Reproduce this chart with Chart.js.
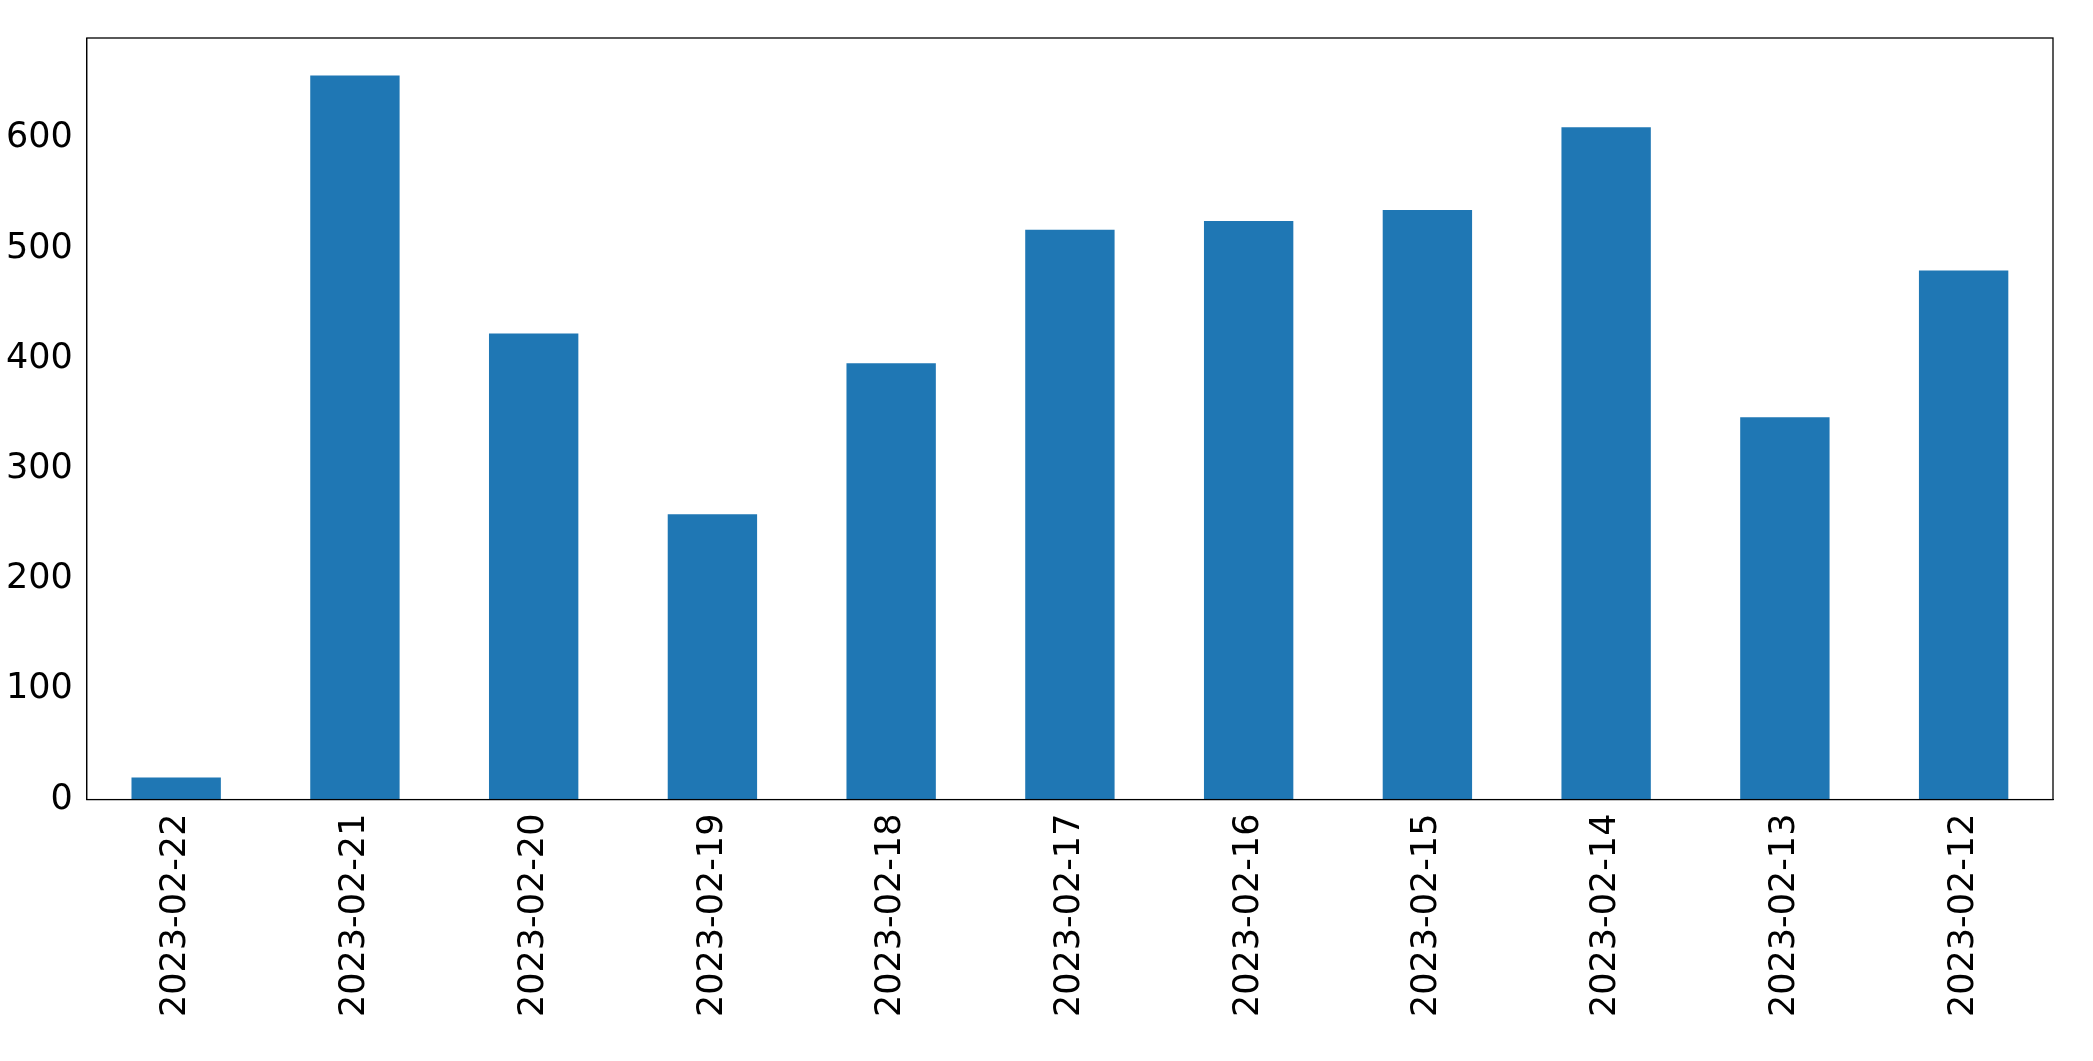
<!DOCTYPE html>
<html><head><meta charset="utf-8">
<script src="https://cdn.jsdelivr.net/npm/chart.js@4"></script>
<style>html,body{margin:0;padding:0;background:#fff}#w{position:absolute;left:0;top:0;width:2093px;height:1061px}</style>
</head><body><div id="w"><canvas id="c"></canvas></div>
<script>
const categories = ["2023-02-22","2023-02-21","2023-02-20","2023-02-19","2023-02-18","2023-02-17","2023-02-16","2023-02-15","2023-02-14","2023-02-13","2023-02-12"];
const values = [20, 657, 423, 259, 396, 517, 525, 535, 610, 347, 480];
const yTicks = [0, 100, 200, 300, 400, 500, 600];
const yMax = 691;
const frame = {id:'frame', afterDraw(c){const a=c.chartArea,x=c.ctx;x.save();x.strokeStyle='#000';x.lineWidth=1.3;x.strokeRect(a.left,a.top,a.right-a.left,a.bottom-a.top);x.restore();}};
new Chart(document.getElementById('c'), {
  type:'bar',
  data:{labels:categories, datasets:[{data:values, backgroundColor:'#1f77b4', categoryPercentage:1, barPercentage:0.5}]},
  options:{responsive:true, maintainAspectRatio:false, animation:false,
    layout:{padding:{top:38, right:40, left:0, bottom:38}},
    plugins:{legend:{display:false}, tooltip:{enabled:false}},
    scales:{
      x:{grid:{display:false, drawTicks:true, tickLength:8, tickColor:'#000'}, border:{color:'#000'},
         ticks:{color:'#000', font:{family:'DejaVu Sans', size:35}, maxRotation:90, minRotation:90, padding:6}},
      y:{min:0, max:yMax, grid:{display:false, drawTicks:true, tickLength:8, tickColor:'#000'}, border:{color:'#000'},
         afterBuildTicks(s){s.ticks = yTicks.map(v=>({value:v}));},
         ticks:{autoSkip:false, color:'#000', font:{family:'DejaVu Sans', size:35}, padding:6}}
    }},
  plugins:[frame]
});
</script></body></html>
